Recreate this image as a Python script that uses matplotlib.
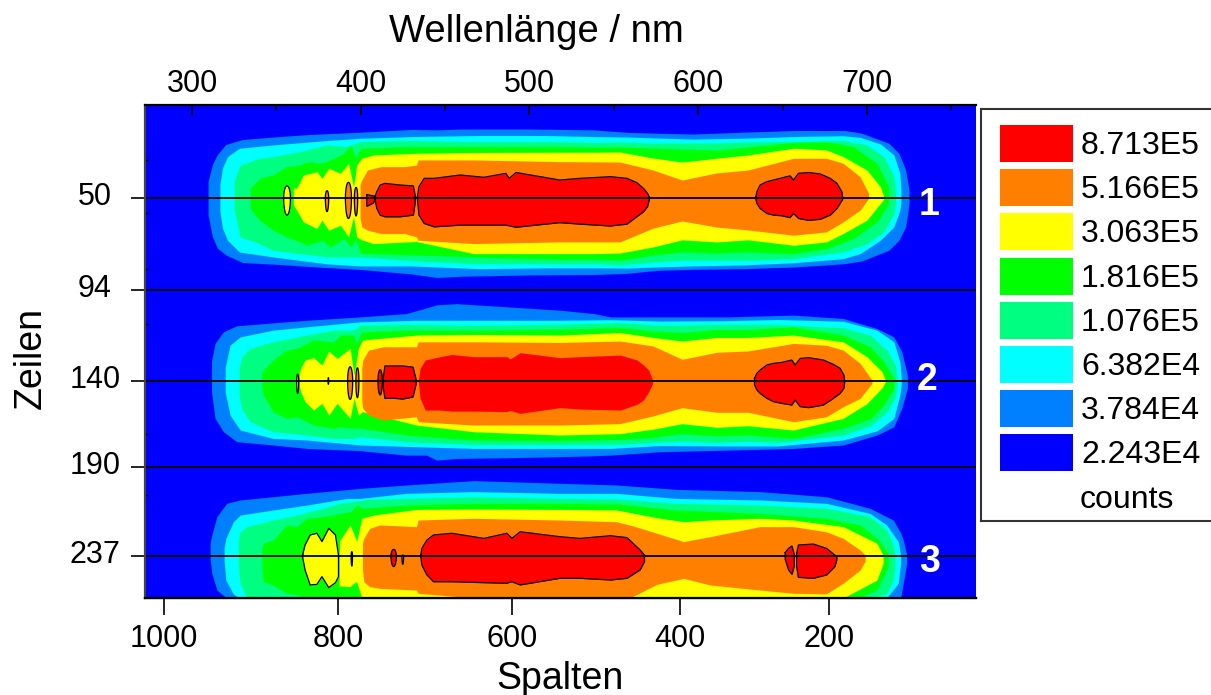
import numpy as np
import matplotlib
matplotlib.use('Agg')
import matplotlib.pyplot as plt
from matplotlib.patches import Rectangle
from matplotlib.transforms import ScaledTranslation

plt.rcParams['font.family'] = ['Liberation Sans', 'DejaVu Sans']

# Legend
LEGEND_VALUES = ['8.713E5', '5.166E5', '3.063E5', '1.816E5', '1.076E5', '6.382E4', '3.784E4', '2.243E4']
LEGEND_COLORS = ['#FF0000', '#FF8000', '#FFFF00', '#00FF00', '#00FF80', '#00FFFF', '#0080FF', '#0000FF']
RED, ORANGE, YELLOW, GREEN, SPRING, CYAN, SKY, BLUE = LEGEND_COLORS

# Axes, the picture has no straight pixel scale for Zeilen and Spalten
WL_TICKS = [300, 400, 500, 600, 700]
WL_MINOR = [350, 450, 550, 650, 750]
WL_LIM = (272.1, 764.7)
COL_ANCHOR = [1022, 1000, 800, 600, 400, 200, 4]
COL_ANCHOR_WL = [272.1, 283.4, 386.5, 489.7, 589.3, 677.6, 764.7]
COL_TICKS = [1000, 800, 600, 400, 200]
ROW_TICKS = [50, 94, 140, 190, 237]
ROW_MINOR = [32, 57, 84, 111, 171, 205]
ROW_ANCHOR = [5.5, 50, 94, 140, 190, 237, 259.2]
ROW_ANCHOR_POS = [0, 93, 185, 276, 362, 451, 493]
BAND_ROWS = [50, 140, 237]
BAND_NAMES = ['1', '2', '3']
BAND_LABEL_WL = [737, 735.5, 737]
BAND_LABEL_ROW = [53.3, 139.5, 240]

# Band 1: wavelength and the rows above / below the band centre for each contour
B1_SKY_X = [309.5, 312, 315, 320, 330, 350, 370, 400, 430, 445, 460, 500, 538, 558, 576, 597, 627, 657, 687, 697, 713, 719, 723, 725]
B1_SKY_T = [8, 16, 20.8, 25.6, 28, 29.3, 30.4, 31.5, 32.8, 32.6, 33, 33, 32.6, 31.4, 31, 30.6, 31.5, 32.3, 32.3, 31, 26.2, 21.4, 13.4, 3.8]
B1_SKY_B = [8, 18.4, 24, 27.2, 30.9, 31.7, 32.8, 34.2, 36.3, 38, 37.4, 36.8, 36.6, 36, 34.6, 34.1, 33.8, 33, 31.4, 30.1, 25, 20.2, 13.8, 2.6]
B1_CYAN_X = [316.5, 318, 321, 328, 348, 380, 400, 430, 470, 510, 538, 558, 575, 597, 627, 656, 686, 696, 708, 716, 719.6, 720.2]
B1_CYAN_T = [6.4, 14.4, 19.8, 23.8, 25.4, 27.5, 28.6, 29.4, 29.9, 29.9, 29.4, 29.2, 28.7, 28.2, 28.6, 29.4, 29.8, 29, 25.9, 20.6, 11.8, 3.8]
B1_CYAN_B = [6.4, 14.4, 20.2, 25.8, 28.2, 31.5, 32.5, 32.5, 33.8, 33.4, 33.4, 33.5, 33, 32.5, 32, 31, 29, 26.6, 20.2, 13.8, 5.8, 1.9]
B1_SPRING_X = [325, 328.5, 340, 348, 364, 380, 392, 400, 428, 467, 519, 538, 553.7, 573.3, 590.5, 611, 629.6, 656, 686, 700, 710, 716, 717]
B1_SPRING_T = [8, 15.8, 19, 19.8, 22.2, 25.4, 24.6, 27, 27.5, 27, 27, 26.6, 26.8, 26.3, 26.3, 26.3, 26.8, 27, 27.5, 25.4, 19.8, 10.2, 2.2]
B1_SPRING_B = [5.8, 18.6, 21.8, 25, 26.6, 28.2, 28.2, 28.2, 29.8, 31.4, 31.4, 31.4, 32, 30.6, 29.7, 29.7, 29.7, 29, 25.8, 21.8, 16.2, 7.4, 1.6]
B1_GREEN_X = [334.4, 337.4, 340, 348, 356, 364, 368, 377, 382, 390, 394, 397, 400, 428, 467, 519, 538, 553.7, 573.3, 590.5, 611, 629.6, 656, 676, 692, 706, 713]
B1_GREEN_T = [4.8, 7, 9.4, 11, 15, 15.8, 17.4, 16.6, 18.2, 21.4, 25.4, 19, 23.8, 24.6, 24.6, 24.6, 24.3, 24.4, 23.9, 23.4, 23, 24.4, 26.6, 27, 24.6, 16.6, 5.4]
B1_GREEN_B = [4.8, 8, 10.6, 15.4, 18.6, 21, 22.6, 20.2, 23.4, 19.4, 23.4, 20, 26.4, 27.2, 28.2, 29.3, 29.3, 29.7, 27.3, 25.8, 26.3, 25.8, 26.6, 24.2, 19.4, 11.4, 2.6]
B1_YELLOW_X = [360, 362, 366, 374, 377, 381, 388, 392.7, 395.7, 397.6, 400.6, 407.5, 433, 467, 518, 538, 553.7, 573.3, 590.5, 611, 629.6, 656.5, 676, 686, 700, 708, 710]
B1_YELLOW_T = [4.8, 4.6, 11, 12.6, 9.4, 14.2, 11.8, 16.6, 5.4, 15.8, 19, 20.6, 21.4, 21.8, 21.9, 21.9, 22, 19.1, 17.2, 19, 20.6, 23.8, 23, 19.8, 13.4, 5.4, 0.6]
B1_YELLOW_B = [3.2, 5.8, 11.4, 14.6, 10.6, 15.4, 13, 18.6, 9, 18.6, 20, 21.8, 20.8, 26.6, 26.6, 26.6, 26.3, 23.4, 20, 21, 20, 22.6, 21, 17, 10.6, 2.6, 0.6]
B1_ORANGE_X = [399.6, 400.6, 404, 412, 426, 433, 434, 467, 518, 553.7, 573.3, 590.5, 611, 629.6, 656.5, 676, 686, 696, 701]
B1_ORANGE_T = [6.4, 8.6, 13.4, 15, 15, 15.8, 18.2, 18.2, 17.4, 17.2, 13.4, 8.6, 12, 13.4, 19, 19, 16.6, 10.2, 2.2]
B1_ORANGE_B = [9.6, 13.8, 15.4, 17, 17, 18.6, 20.2, 21.8, 21, 21, 14.4, 11, 13.9, 15.3, 17.8, 16.2, 11.4, 5.8, 0.2]
B1_RED_A_X = [403.6, 407.5, 408.5]
B1_RED_A_T = [1.6, 1, 0.8]
B1_RED_A_B = [4, 2.4, 0.8]
B1_RED_B_X = [408.5, 409.5, 411.5, 414.4, 423.3, 431.2, 432.2]
B1_RED_B_T = [0.8, 3, 6.2, 7, 6.2, 5.8, 1.4]
B1_RED_B_B = [0.8, 5, 8.2, 9, 9, 8.2, 2.6]
B1_RED_C_X = [433.6, 434.5, 437.6, 443.5, 459, 473, 486, 488, 492, 518, 530, 548, 557.8, 563.6, 567.6, 570, 571]
B1_RED_C_T = [0.8, 5.4, 9.4, 9.4, 11, 9.9, 11.8, 9.4, 12.2, 8.6, 9.4, 10.2, 9.4, 7.4, 4.6, 2.2, 0.6]
B1_RED_C_B = [0.8, 8.2, 12.2, 13.8, 13, 13, 13, 13.3, 14, 11.8, 12.5, 13.4, 12.5, 9, 6.6, 4.2, 1]
B1_RED_D_X = [634.2, 634.8, 636.7, 640.7, 644.6, 649.6, 654.5, 656.5, 659.5, 665.4, 672.4, 678.3, 682.3, 685.2, 685.6]
B1_RED_D_T = [0.5, 3, 6.2, 7.8, 8.6, 9.6, 10.6, 8.6, 11.8, 12.2, 11.5, 9.4, 7, 3, 0.8]
B1_RED_D_B = [0.5, 2.6, 5, 7.4, 8.2, 8.5, 9.4, 7.4, 9.8, 10.7, 10.2, 8.2, 5, 1.3, 1]
# small closed contours: wavelength, half width, rows up, rows down
B1_SPOT_WL = [356.3, 380, 392.7, 397.2]
B1_SPOT_W = [2, 1, 1.8, 1]
B1_SPOT_T = [5.8, 3.5, 7.5, 5.1]
B1_SPOT_B = [8.2, 6.5, 9.8, 8.6]
B1_SPOT_C = [YELLOW, ORANGE, ORANGE, ORANGE]

# Band 2
B2_SKY_X = [311.5, 313.6, 318.6, 326.5, 348, 368, 399.6, 427, 439, 445, 457, 486.6, 518, 538, 548, 577.5, 617, 656.5, 686, 706, 716, 720.7, 724]
B2_SKY_T = [10, 19, 24.9, 27.9, 29.4, 30.7, 32.4, 34.1, 37, 38.5, 39.1, 37.5, 35.8, 34.1, 32.4, 32.4, 32.4, 33.3, 31.6, 26.5, 22.3, 14.8, 3]
B2_SKY_B = [6.2, 21.7, 29.5, 35.3, 37.2, 39.2, 40.5, 43.1, 43.1, 46, 45, 44.6, 44, 43.5, 43.1, 41.1, 40.2, 39.2, 37.2, 31.4, 26.6, 15.9, 4.3]
B2_CYAN_X = [319.6, 322.5, 328.5, 348, 368, 399.6, 433, 467, 518, 548, 577.5, 617, 647, 686, 706, 716, 719.6, 720.4]
B2_CYAN_T = [6.7, 18.1, 22.3, 25.7, 27.4, 29.9, 30.7, 30.7, 30.7, 31, 30.3, 30.5, 31.1, 30.2, 25.7, 19.8, 9.7, 1.3]
B2_CYAN_B = [6.2, 19.8, 28.5, 33.4, 34.3, 37.2, 38.2, 39.2, 39.2, 39.2, 37.5, 37.8, 37.8, 34.3, 29, 21.7, 8.1, 1.6]
B2_SPRING_X = [327.9, 329.6, 334.5, 348, 368, 383.8, 395.7, 399.6, 427, 467, 518, 553.7, 573.3, 590.5, 611, 629.6, 647, 686, 702, 711.9, 716.8, 717.8]
B2_SPRING_T = [6.7, 12.3, 16.5, 19.8, 23.2, 25.7, 25.7, 28.2, 28.6, 28.2, 28.6, 29.6, 28.3, 28.3, 28.6, 28.6, 28.6, 26.9, 23.2, 15.6, 8.1, 1.3]
B2_SPRING_B = [8.1, 16.9, 23.7, 29.5, 31.4, 33.4, 33.4, 32.4, 35.3, 36.9, 36.9, 36.8, 35.7, 34.9, 35.7, 35, 35.7, 31.4, 26, 18, 9.5, 1.9]
B2_GREEN_X = [341.3, 342.3, 348, 356, 362, 372, 383.8, 388, 395.7, 397.3, 400.6, 427, 467, 518, 553.7, 573.3, 590.5, 611, 629.6, 656.5, 686, 702, 710, 716]
B2_GREEN_T = [4.2, 5.5, 10.6, 15.6, 16.5, 20.7, 19.8, 23.2, 23.2, 19, 24.9, 25.7, 25.7, 26.2, 27, 25.3, 24.5, 26, 26, 27.4, 23.2, 17.3, 9.7, 1.3]
B2_GREEN_B = [3.9, 8.1, 17.8, 21.7, 20.8, 25.6, 27.5, 26.6, 27.5, 27.2, 27.5, 31.4, 34.3, 34.7, 34, 32.7, 30.6, 32, 31.4, 33.4, 27.5, 22, 14, 4.3]
B2_YELLOW_X = [363.6, 364.4, 367, 372, 377, 381, 386, 393.7, 396, 398.6, 401, 433, 467, 518, 553.7, 573.3, 590.5, 611, 629.6, 656.5, 686, 700, 709, 711]
B2_YELLOW_T = [4.2, 6.4, 10.6, 11.8, 8.1, 15.1, 11.4, 16.5, 3, 16.5, 20.7, 23.2, 23.5, 23.2, 24.5, 22, 20.2, 22, 22, 23.2, 19.8, 12.3, 4.7, 0.3]
B2_YELLOW_B = [2.9, 6.2, 12, 16.9, 13, 19.8, 13, 21.7, 10.1, 19.8, 17.8, 25.6, 29.5, 31.4, 30.6, 28, 24.8, 26.9, 26, 28.5, 21.7, 13.2, 3.9, 0.6]
B2_ORANGE_X = [400.6, 401.2, 404.6, 413.4, 433, 434, 467, 518, 553.7, 573.3, 590.5, 611, 629.6, 656.5, 676, 686, 696, 703]
B2_ORANGE_T = [6.7, 10.6, 15.6, 17.3, 17.3, 19.8, 19.8, 19.5, 20.2, 17.7, 11, 14.5, 15.2, 19, 18.1, 15.6, 8.9, 0.5]
B2_ORANGE_B = [11.6, 15.9, 19.8, 22.7, 20.8, 23.7, 25.6, 25.6, 24.8, 20.3, 15.5, 18.2, 18.2, 23.7, 20.8, 14.9, 10.1, 1.4]
B2_RED_B_X = [413.4, 414.3, 420, 425, 431, 432.8]
B2_RED_B_T = [1.7, 7.6, 7.6, 7.6, 7, 0.8]
B2_RED_B_B = [3.9, 10.1, 10.1, 10.5, 9.3, 1.9]
B2_RED_C_X = [434.2, 435.2, 438.2, 447, 454, 467, 486.6, 488.5, 494.5, 518, 530, 553.8, 563.8, 567.6, 570.7, 573]
B2_RED_C_T = [0.8, 6.4, 10.6, 12.3, 13.4, 12.3, 12.3, 11.1, 14.3, 11.8, 12.3, 13.1, 10.6, 8.1, 5.5, 0.5]
B2_RED_C_B = [1, 10.1, 16.9, 16.9, 17.5, 17.5, 17.8, 17.1, 18.8, 15.5, 16.3, 16.9, 13.5, 11, 6.2, 1.4]
B2_RED_D_X = [633.4, 634.8, 636.7, 640.7, 644.6, 649.6, 655.5, 657.5, 660.5, 665.4, 674.3, 680.2, 684.2, 686.4, 686.8]
B2_RED_D_T = [1.3, 3.9, 5.5, 8.1, 8.9, 9.4, 10.6, 8.1, 11.4, 11.8, 10.6, 8.4, 6.4, 3, 0.5]
B2_RED_D_B = [2.3, 5.2, 7.2, 10.1, 12, 13, 14, 11.1, 14.9, 15.5, 14, 10.1, 7.2, 4.3, 1.4]
B2_SPOT_WL = [362.6, 380.8, 393.7, 398, 411.5]
B2_SPOT_W = [0.6, 0.2, 1.5, 0.9, 1.3]
B2_SPOT_T = [3.4, 1.7, 7.2, 6.7, 5.7]
B2_SPOT_B = [7.2, 1.9, 10.7, 9.7, 8.1]
B2_SPOT_C = [YELLOW, YELLOW, ORANGE, ORANGE, RED]

# Band 3, runs off the lower edge of the plot
B3_SKY_X = [310.7, 311.7, 314.7, 320.5, 328.5, 348, 368, 399.6, 427, 467, 518, 551.6, 587, 636.6, 676, 701.8, 715.6, 720, 721.6, 723.6]
B3_SKY_T = [7, 11.1, 20.8, 27.8, 29.6, 31.3, 33.1, 35.7, 37.5, 39.8, 38.4, 37.5, 35.2, 34, 31.3, 25.2, 19, 12.3, 8.4, 0.5]
B3_SKY_B = [1.8, 9.2, 18, 30, 30, 30, 30, 30, 30, 30, 30, 30, 30, 30, 30, 30, 26.4, 22.2, 14.4, 3.9]
B3_CYAN_X = [319, 320, 324.5, 328.5, 348, 368, 391.7, 399.6, 427, 467, 518, 551.6, 587, 636.6, 676, 701.8, 711.7, 718.6, 720]
B3_CYAN_T = [4.4, 9.3, 18.1, 21.6, 24.3, 26.9, 30.4, 30.4, 33.1, 34, 33.1, 33.1, 30.4, 29.6, 27.8, 22.5, 16.4, 7.6, 0.5]
B3_CYAN_B = [2.6, 12.7, 20.2, 30, 30, 30, 30, 30, 30, 30, 30, 30, 30, 30, 30, 30, 30, 14.4, 3.9]
B3_SPRING_X = [327.5, 328.5, 332.5, 348, 358, 380, 388, 396, 403.6, 427, 467, 518, 551.6, 587, 636.6, 676, 701.8, 711.7, 715.6, 716.6]
B3_SPRING_T = [8.8, 12.8, 15.5, 19, 20.8, 25.7, 27.8, 28.7, 29.9, 30.4, 31.3, 30.4, 30.1, 27.8, 26.9, 25.2, 20.8, 13.7, 5.8, 0.5]
B3_SPRING_B = [5.6, 14.4, 22.9, 30, 30, 30, 30, 30, 30, 30, 30, 30, 30, 30, 30, 30, 30, 20, 12.7, 4.8]
B3_GREEN_X = [341.3, 342.3, 348, 356, 362, 368, 378, 388, 394, 398, 401, 427, 467, 518, 551.6, 587, 636.6, 676, 696, 706, 712.7]
B3_GREEN_T = [3.5, 6.7, 8.4, 16.4, 15.5, 19.9, 20.8, 22.5, 23.4, 26.9, 25.2, 26.9, 27.8, 27.8, 27.5, 24.3, 22.5, 19.9, 16.4, 9.3, 1.4]
B3_GREEN_B = [5.6, 13.6, 15.3, 19.7, 20.6, 22.2, 30, 30, 30, 30, 30, 30, 30, 30, 30, 30, 30, 30, 30, 17.6, 5.6]
B3_YELLOW_X = [387.2, 387.7, 393.7, 395.7, 397.6, 400.6, 407.5, 433, 466.8, 518, 551.6, 577.5, 591.4, 607, 636.6, 656.5, 686, 706, 709.6]
B3_YELLOW_T = [0.9, 8.4, 16.4, 12, 7.6, 19.9, 21.6, 24.6, 24.8, 24.6, 24.3, 19.9, 18.1, 19, 19.9, 19, 15.5, 6.7, 0.5]
B3_YELLOW_B = [16.2, 15.8, 16.2, 14.4, 13.6, 22, 30, 30, 30, 30, 30, 30, 21.5, 30, 30, 30, 24, 12.7, 3.9]
B3_LOBE_X = [365.6, 367, 370, 374, 377, 381, 385, 386.8]
B3_LOBE_T = [0.9, 5.8, 11.1, 12, 7.6, 14.6, 11.1, 0.5]
B3_LOBE_B = [0.9, 7.4, 15.3, 15, 10.9, 16.7, 14.1, 10.9]
B3_ORANGE_X = [401, 401.8, 405.3, 411.3, 433, 434, 467, 518, 551.6, 561, 575.5, 591.4, 607, 636.6, 656.5, 676, 686, 696, 699]
B3_ORANGE_T = [7, 9.3, 14.6, 16.4, 15.5, 19, 19.9, 19, 18.1, 16, 12, 7.6, 10.2, 15.5, 15.5, 12.8, 9.3, 3.2, 0.4]
B3_ORANGE_B = [7.4, 13.6, 16.2, 17.1, 18, 19.7, 22.9, 22.5, 22.5, 21.5, 15, 11.8, 15.3, 18, 19.7, 20, 14.4, 7.4, 2.6]
B3_RED_C_X = [435.6, 436.2, 439.2, 443.1, 454, 473, 486.6, 489.6, 494.5, 518, 530, 548, 557.8, 565.6, 568.2]
B3_RED_C_T = [0.5, 4, 8.4, 11.1, 12, 9.3, 12, 9.3, 12.8, 10.2, 9.3, 10.7, 9.7, 3.2, 0.5]
B3_RED_C_B = [0.5, 4.8, 10, 13.6, 13.6, 14.1, 14.4, 13.6, 15.3, 11.8, 11.8, 12.7, 11.8, 7.4, 3]
B3_RED_E_X = [651.6, 653.6, 655.6, 657]
B3_RED_E_T = [1.8, 4, 5.3, 0.9]
B3_RED_E_B = [1.8, 7.4, 9.7, 5.3]
B3_RED_F_X = [658.4, 659.4, 668.3, 676.2, 681.1, 682.2]
B3_RED_F_T = [1.4, 5.8, 6.3, 4, 0.4, 0]
B3_RED_F_B = [5.6, 11.3, 11.8, 10, 5.6, 2.1]
B3_SPOT_WL = [394.7, 424.9, 419.5]
B3_SPOT_W = [0.4, 0.5, 1.6]
B3_SPOT_T = [2.3, 0.5, 3.5]
B3_SPOT_B = [5.3, 4.4, 5.6]
B3_SPOT_C = [YELLOW, ORANGE, RED]


def row_to_pos(r):
    return np.interp(r, ROW_ANCHOR, ROW_ANCHOR_POS)

def pos_to_row(p):
    return np.interp(p, ROW_ANCHOR_POS, ROW_ANCHOR)

def wl_to_col(w):
    return np.interp(w, COL_ANCHOR_WL, COL_ANCHOR)

def col_to_wl(c):
    return np.interp(c, COL_ANCHOR[::-1], COL_ANCHOR_WL[::-1])

def level(ax, centre, x, top, bot, color, outline=False):
    x = np.array(x, dtype=float)
    upper = centre - np.array(top, dtype=float)
    lower = centre + np.array(bot, dtype=float)
    ax.fill_between(x, upper, lower, color=color, linewidth=0)
    if outline:
        ax.plot(np.r_[x, x[::-1], x[0]], np.r_[upper, lower[::-1], upper[0]], color='black', lw=0.9)

def spots(ax, centre, wl, width, top, bot, colors):
    a = np.linspace(0, np.pi, 30)
    for w, h, t, b, c in zip(wl, width, top, bot, colors):
        x = np.r_[w - h * np.cos(a), w + h * np.cos(a)]
        y = np.r_[centre - t * np.sin(a), centre + b * np.sin(a)]
        ax.fill(x, y, facecolor=c, edgecolor='black', lw=0.9)


fig = plt.figure(figsize=(12.11, 6.95), dpi=100)
ax = fig.add_axes([145 / 1211, 1 - 598 / 695, 831 / 1211, 493 / 695])
ax.set_facecolor(BLUE)

# Band 1
c = BAND_ROWS[0]
level(ax, c, B1_SKY_X, B1_SKY_T, B1_SKY_B, SKY)
level(ax, c, B1_CYAN_X, B1_CYAN_T, B1_CYAN_B, CYAN)
level(ax, c, B1_SPRING_X, B1_SPRING_T, B1_SPRING_B, SPRING)
level(ax, c, B1_GREEN_X, B1_GREEN_T, B1_GREEN_B, GREEN)
level(ax, c, B1_YELLOW_X, B1_YELLOW_T, B1_YELLOW_B, YELLOW)
level(ax, c, B1_ORANGE_X, B1_ORANGE_T, B1_ORANGE_B, ORANGE)
level(ax, c, B1_RED_A_X, B1_RED_A_T, B1_RED_A_B, RED, True)
level(ax, c, B1_RED_B_X, B1_RED_B_T, B1_RED_B_B, RED, True)
level(ax, c, B1_RED_C_X, B1_RED_C_T, B1_RED_C_B, RED, True)
level(ax, c, B1_RED_D_X, B1_RED_D_T, B1_RED_D_B, RED, True)
spots(ax, c, B1_SPOT_WL, B1_SPOT_W, B1_SPOT_T, B1_SPOT_B, B1_SPOT_C)

# Band 2
c = BAND_ROWS[1]
level(ax, c, B2_SKY_X, B2_SKY_T, B2_SKY_B, SKY)
level(ax, c, B2_CYAN_X, B2_CYAN_T, B2_CYAN_B, CYAN)
level(ax, c, B2_SPRING_X, B2_SPRING_T, B2_SPRING_B, SPRING)
level(ax, c, B2_GREEN_X, B2_GREEN_T, B2_GREEN_B, GREEN)
level(ax, c, B2_YELLOW_X, B2_YELLOW_T, B2_YELLOW_B, YELLOW)
level(ax, c, B2_ORANGE_X, B2_ORANGE_T, B2_ORANGE_B, ORANGE)
level(ax, c, B2_RED_B_X, B2_RED_B_T, B2_RED_B_B, RED, True)
level(ax, c, B2_RED_C_X, B2_RED_C_T, B2_RED_C_B, RED)
level(ax, c, B2_RED_D_X, B2_RED_D_T, B2_RED_D_B, RED, True)
spots(ax, c, B2_SPOT_WL, B2_SPOT_W, B2_SPOT_T, B2_SPOT_B, B2_SPOT_C)

# Band 3
c = BAND_ROWS[2]
level(ax, c, B3_SKY_X, B3_SKY_T, B3_SKY_B, SKY)
level(ax, c, B3_CYAN_X, B3_CYAN_T, B3_CYAN_B, CYAN)
level(ax, c, B3_SPRING_X, B3_SPRING_T, B3_SPRING_B, SPRING)
level(ax, c, B3_GREEN_X, B3_GREEN_T, B3_GREEN_B, GREEN)
level(ax, c, B3_YELLOW_X, B3_YELLOW_T, B3_YELLOW_B, YELLOW)
level(ax, c, B3_LOBE_X, B3_LOBE_T, B3_LOBE_B, YELLOW, True)
level(ax, c, B3_ORANGE_X, B3_ORANGE_T, B3_ORANGE_B, ORANGE)
level(ax, c, B3_RED_C_X, B3_RED_C_T, B3_RED_C_B, RED, True)
level(ax, c, B3_RED_E_X, B3_RED_E_T, B3_RED_E_B, RED, True)
level(ax, c, B3_RED_F_X, B3_RED_F_T, B3_RED_F_B, RED, True)
spots(ax, c, B3_SPOT_WL, B3_SPOT_W, B3_SPOT_T, B3_SPOT_B, B3_SPOT_C)

# Zeilen lines across the plot
for r in ROW_TICKS:
    ax.axhline(r, color='black', lw=1.3)

for name, w, r in zip(BAND_NAMES, BAND_LABEL_WL, BAND_LABEL_ROW):
    ax.text(w, r, name, color='white', fontsize=27, fontweight='bold', ha='center', va='center')

ax.set_yscale('function', functions=(row_to_pos, pos_to_row))
ax.set_xlim(WL_LIM)
ax.set_ylim(ROW_ANCHOR[-1], ROW_ANCHOR[0])

ax.xaxis.tick_top()
ax.set_xticks(WL_TICKS)
ax.set_xticks(WL_MINOR, minor=True)
ax.tick_params(axis='x', which='major', direction='in', length=7, width=1.2, labelsize=22, pad=4)
ax.tick_params(axis='x', which='minor', direction='in', length=4, width=1.2)

ax.set_yticks(ROW_TICKS)
ax.set_yticklabels([str(r) for r in ROW_TICKS], ha='center')
ax.set_yticks(ROW_MINOR, minor=True)
ax.set_yticklabels([], minor=True)
ax.tick_params(axis='y', which='major', direction='out', length=10, width=1.2, labelsize=22, pad=26)
ax.tick_params(axis='y', which='minor', direction='in', length=2, width=1)
for t in ax.get_yticklabels():
    t.set_transform(t.get_transform() + ScaledTranslation(0, 3 / 72, fig.dpi_scale_trans))

sec = ax.secondary_xaxis('bottom', functions=(wl_to_col, col_to_wl))
sec.set_xticks(COL_TICKS)
sec.tick_params(axis='x', direction='out', length=12, width=1.2, labelsize=22, pad=7)
sec.spines['bottom'].set_linewidth(1.6)

ax.spines['right'].set_visible(False)
ax.spines['top'].set_linewidth(1.6)
ax.spines['bottom'].set_linewidth(1.6)
ax.spines['left'].set_linewidth(1.6)
ax.spines['left'].set_color('#444444')

fig.text(536 / 1211, 1 - 32 / 695, 'Wellenlänge / nm', fontsize=27.5, ha='center', va='center')
fig.text(560 / 1211, 1 - 679 / 695, 'Spalten', fontsize=27, ha='center', va='center')
fig.text(31 / 1211, 1 - 358 / 695, 'Zeilen', fontsize=27, rotation=90, ha='center', va='center')

# Legend box, cut by the right edge of the picture
lg = fig.add_axes([981 / 1211, 1 - 521 / 695, 232 / 1211, 412 / 695])
lg.set_xlim(0, 232)
lg.set_ylim(412, 0)
lg.set_xticks([])
lg.set_yticks([])
for s in lg.spines.values():
    s.set_linewidth(1.5)
    s.set_color('#333333')
for i, (val, col) in enumerate(zip(LEGEND_VALUES, LEGEND_COLORS)):
    lg.add_patch(Rectangle((19, 16 + i * 44.2), 73, 37, facecolor=col, edgecolor='none'))
    lg.text(100, 37 + i * 44.2, val, fontsize=23, va='center', ha='left')
lg.text(99, 391, 'counts', fontsize=23, va='center', ha='left')

fig.savefig('out.png', dpi=100)
